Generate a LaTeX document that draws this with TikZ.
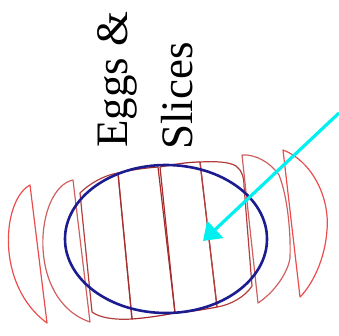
\documentclass[tikz,border=0pt]{standalone}
\usepackage{fontspec}
\setmainfont{Liberation Serif}
\usetikzlibrary{arrows.meta}
\definecolor{redA}{RGB}{236,76,76}
\definecolor{redB}{RGB}{208,96,96}
\definecolor{redC}{RGB}{180,62,62}
\definecolor{redD}{RGB}{165,45,45}
\definecolor{eggblue}{RGB}{28,28,145}
\definecolor{arrowcyan}{RGB}{0,240,240}
\tikzset{
  slice/.style={draw=#1, line width=1.2pt, line join=round},
  egg/.style={draw=eggblue, line width=2.6pt},
  pointer/.style={draw=arrowcyan, line width=3.2pt, -{Triangle[length=17pt,width=23pt]}},
  lbl/.style={inner sep=0pt, font=\fontsize{45}{54}\selectfont, rotate=90, anchor=base west}
}
\begin{document}
\begin{tikzpicture}[x=1pt,y=-1pt]
\useasboundingbox (0,0) rectangle (339,336);
% slices
\path[slice=redA] (30,185) -- (47,323) .. controls (-5,285) and (2,200) .. (30,185) -- cycle;
\path[slice=redB] (73,180) -- (90,322) .. controls (25,300) and (35,188) .. (73,180) -- cycle;
\path[slice=redC] (80,193) -- (92,312) .. controls (100,318) and (115,320) .. (132,319)
  -- (118,173) .. controls (105,175) and (90,183) .. (80,193) -- cycle;
\path[slice=redD] (118,173) .. controls (130,170) and (145,168) .. (158,167) -- (175,313)
  .. controls (160,316) and (145,318) .. (132,319) -- cycle;
\path[slice=redD] (160,167) .. controls (175,164) and (190,162) .. (200,162) -- (217,307)
  .. controls (202,310) and (188,312) .. (175,313) -- cycle;
\path[slice=redC] (200,162) .. controls (215,161) and (230,162) .. (236,166)
  .. controls (242,170) and (244,178) .. (244,186) -- (252,286)
  .. controls (245,297) and (230,305) .. (217,307) -- cycle;
\path[slice=redB] (242,155) .. controls (255,154) and (270,162) .. (279,175)
  .. controls (287,195) and (291,230) .. (290,258)
  .. controls (288,272) and (275,292) .. (258,303) -- cycle;
\path[slice=redA] (283,150) .. controls (310,160) and (330,195) .. (327,230)
  .. controls (325,260) and (312,285) .. (300,297) -- cycle;
% egg outline
\path[egg] (166,239) ellipse [x radius=101pt, y radius=74pt];
% labels
\node[lbl] (eggs) at (127,148) {Eggs \&};
\node[lbl] (slices) at (192,150) {Slices};
% arrow
\coordinate (from) at (339,113);
\coordinate (tip) at (203,241);
\draw[pointer] (from) -- (tip);
\end{tikzpicture}
\end{document}
